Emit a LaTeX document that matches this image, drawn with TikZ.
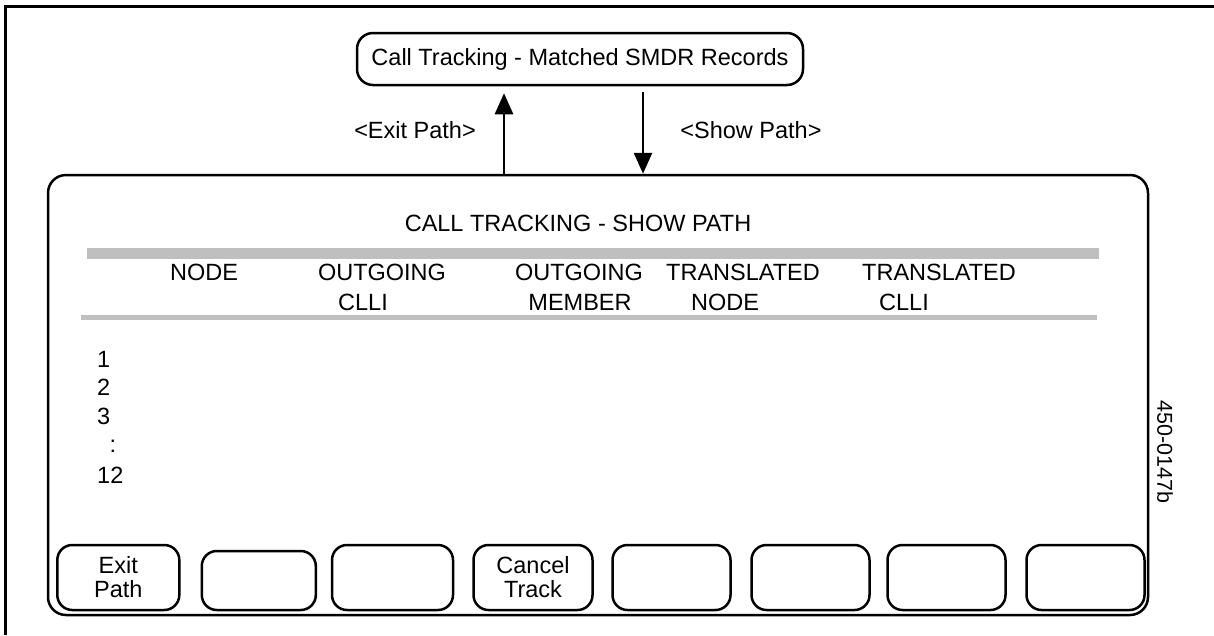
\documentclass[tikz,border=0pt]{standalone}
\usepackage{fontspec}
\setmainfont{Liberation Sans}
\usetikzlibrary{arrows.meta,calc}
\begin{document}
\begin{tikzpicture}[x=1pt,y=-1pt,
  every node/.style={font=\fontsize{23.5}{28}\selectfont,inner sep=0pt},
  panel/.style={draw,line width=2.5pt,rounded corners=16pt},
  btn/.style={draw,line width=2.5pt,rounded corners=15pt,align=center},
  arr/.style={line width=2.8pt,-{Triangle[length=21pt,width=18pt]}},
  frame/.style={line width=3pt},
  bar/.style={draw=black!25,line width=11pt},
  rule/.style={draw=black!25,line width=5pt},
  hdr/.style={align=center}]
\useasboundingbox (0,0) rectangle (1214,635);
% outer frame (cropped)
\draw[frame] (5,635) -- (5,6) -- (1214,6);
% top box
\node[panel,minimum width=446pt,minimum height=52pt] (top) at (580,59) {Call Tracking - Matched SMDR Records};
% main panel
\node[panel,rounded corners=18pt,minimum width=1100pt,minimum height=440pt] (main) at (598,395) {};
% arrows
\coordinate (upx) at (504,0);
\coordinate (dnx) at (643,0);
\draw[arr,shorten >=7pt] (main.north -| upx) -- (top.south -| upx);
\draw[arr,shorten <=6pt] (top.south -| dnx) -- (main.north -| dnx);
\node (lexit) at (415,130) {<Exit Path>};
\node (lshow) at (751,130) {<Show Path>};
% title and header
\node (title) at (578,223) {CALL TRACKING - SHOW PATH};
\coordinate (b1) at (87,253.5);
\coordinate (b2) at (1099,253.5);
\draw[bar] (b1) -- (b2);
\coordinate (r1) at (81,317.5);
\coordinate (r2) at (1097,317.5);
\draw[rule] (r1) -- (r2);
\node (h1) at (204,272) {NODE};
\node (h2a) at (382,272) {OUTGOING};
\node (h2b) at (363,302) {CLLI};
\node (h3a) at (579,272) {OUTGOING};
\node (h3b) at (580,302) {MEMBER};
\node (h4a) at (743,272) {TRANSLATED};
\node (h4b) at (725,302) {NODE};
\node (h5a) at (939,272) {TRANSLATED};
\node (h5b) at (904,302) {CLLI};
% rows
\node[anchor=west] (n1) at (97,359) {1};
\node[anchor=west] (n2) at (97,387) {2};
\node[anchor=west] (n3) at (97,416) {3};
\node (n4) at (113,446) {:};
\node[anchor=west] (n12) at (97,475) {12};
% id label
\node[rotate=-90,font=\fontsize{21.5}{26}\selectfont] (id) at (1165,452) {450-0147b};
% soft keys
\node[btn,minimum width=122pt,minimum height=65pt] (k1) at (118.3,577.5) {Exit\\[-4pt]Path};
\node[btn,minimum width=114pt,minimum height=59pt] (k2) at (258.8,580.5) {};
\node[btn,minimum width=121pt,minimum height=65pt] (k3) at (392.5,577.5) {};
\node[btn,minimum width=119pt,minimum height=65pt] (k4) at (533,577.5) {Cancel\\[-4pt]Track};
\node[btn,minimum width=118pt,minimum height=65pt] (k5) at (671.5,577.5) {};
\node[btn,minimum width=118pt,minimum height=65pt] (k6) at (810.5,577.5) {};
\node[btn,minimum width=118pt,minimum height=65pt] (k7) at (946.5,577.5) {};
\node[btn,minimum width=118pt,minimum height=65pt] (k8) at (1085.5,577.5) {};
\end{tikzpicture}
\end{document}
